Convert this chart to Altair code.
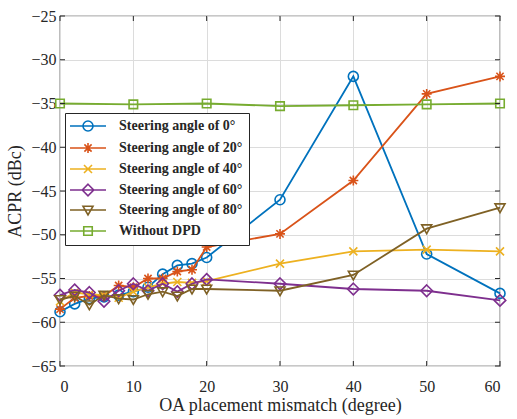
import altair as alt
import pandas as pd

# ---- data ----
x_dense = [0, 2, 4, 6, 8, 10, 12, 14, 16, 18, 20, 30, 40, 50, 60]
x_nodpd = [0, 10, 20, 30, 40, 50, 60]

acpr_0 = [-58.8, -57.9, -57.3, -57.1, -56.9, -56.5, -56.0, -54.5, -53.5, -53.3, -52.6, -46.0, -31.9, -52.2, -56.7]
acpr_20 = [-58.5, -57.2, -57.0, -57.0, -55.8, -56.0, -55.0, -55.0, -54.2, -54.0, -51.4, -49.9, -43.8, -33.9, -31.9]
acpr_40 = [-57.6, -56.6, -56.8, -56.9, -57.2, -56.5, -56.0, -55.6, -55.4, -55.5, -55.3, -53.3, -51.9, -51.7, -51.9]
acpr_60 = [-56.9, -56.3, -56.6, -57.6, -56.4, -55.6, -56.4, -55.6, -56.5, -55.6, -55.1, -55.6, -56.2, -56.4, -57.5]
acpr_80 = [-57.4, -57.0, -58.0, -56.9, -57.3, -57.4, -56.8, -56.5, -57.0, -56.2, -56.2, -56.4, -54.6, -49.3, -46.9]
acpr_nodpd = [-35.0, -35.1, -35.0, -35.3, -35.2, -35.1, -35.0]

series_names = [
    "Steering angle of 0°",
    "Steering angle of 20°",
    "Steering angle of 40°",
    "Steering angle of 60°",
    "Steering angle of 80°",
    "Without DPD",
]
series_colors = ["#0072BD", "#D95319", "#EDB120", "#7E2F8E", "#7F6125", "#77AC30"]

x_ticks = [0, 10, 20, 30, 40, 50, 60]
y_ticks = [-65, -60, -55, -50, -45, -40, -35, -30, -25]

# ---- marker shapes (custom SVG paths) ----
marker_paths = [
    "M1,0A1,1,0,1,1,-1,0A1,1,0,1,1,1,0Z",
    "M0,-1V1M-1,0H1M-0.72,-0.72L0.72,0.72M-0.72,0.72L0.72,-0.72",
    "M-0.8,-0.8L0.8,0.8M-0.8,0.8L0.8,-0.8",
    "M0,-1.15L1.15,0L0,1.15L-1.15,0Z",
    "M-1,-0.75L1,-0.75L0,1Z",
    "M-0.85,-0.85H0.85V0.85H-0.85Z",
]
legend_paths = ["M-3.6,0H3.6" + p for p in marker_paths]

rows = []
for name, vals in zip(series_names[:5], [acpr_0, acpr_20, acpr_40, acpr_60, acpr_80]):
    for xv, yv in zip(x_dense, vals):
        rows.append({"x": xv, "y": yv, "series": name})
for xv, yv in zip(x_nodpd, acpr_nodpd):
    rows.append({"x": xv, "y": yv, "series": series_names[5]})
df = pd.DataFrame(rows)

FONT = "Liberation Serif"
xscale = alt.Scale(domain=[0, 60], nice=False, zero=False)
yscale = alt.Scale(domain=[-65, -25], nice=False, zero=False)

xaxis = alt.Axis(values=x_ticks, title="OA placement mismatch (degree)",
                 grid=True, ticks=False, domain=False, labelPadding=12, titlePadding=2)
yaxis = alt.Axis(values=y_ticks, title="ACPR (dBc)", grid=True, ticks=False,
                 domain=False, labelPadding=4, titlePadding=6)

base = alt.Chart(df)
X = alt.X("x:Q", scale=xscale, axis=xaxis)
Y = alt.Y("y:Q", scale=yscale, axis=yaxis)

series_layers = []
for name, path, col in zip(series_names, marker_paths, series_colors):
    sub = base.transform_filter(alt.datum.series == name)
    series_layers.append(
        sub.mark_line(strokeWidth=1.8, color=col).encode(x=X, y=Y, order=alt.Order("x:Q"))
    )
    series_layers.append(
        sub.mark_point(shape=path, size=100, filled=False, strokeWidth=1.6,
                       opacity=1, color=col).encode(x=X, y=Y)
    )

legend_layer = base.mark_point(opacity=0, size=100, filled=False).encode(
    x=X,
    y=Y,
    color=alt.Color("series:N", scale=alt.Scale(domain=series_names, range=series_colors),
                    legend=alt.Legend(title=None)),
    shape=alt.Shape("series:N", scale=alt.Scale(domain=series_names, range=legend_paths),
                    legend=alt.Legend(title=None)),
)

# inward tick marks on all four sides
xt = pd.DataFrame({"x": x_ticks})
yt = pd.DataFrame({"y": y_ticks})
tick_color = "#262626"
xt_bottom = alt.Chart(xt).mark_rule(color=tick_color).encode(
    x=X, y=alt.value(350), y2=alt.value(345))
xt_top = alt.Chart(xt).mark_rule(color=tick_color).encode(
    x=X, y=alt.value(0), y2=alt.value(5))
yt_left = alt.Chart(yt).mark_rule(color=tick_color).encode(
    y=Y, x=alt.value(0), x2=alt.value(5))
yt_right = alt.Chart(yt).mark_rule(color=tick_color).encode(
    y=Y, x=alt.value(440), x2=alt.value(435))

chart = alt.layer(
    *series_layers, legend_layer, xt_bottom, xt_top, yt_left, yt_right
).properties(
    width=440,
    height=350,
    background="white",
    autosize=alt.AutoSizeParams(type="none"),
    padding={"left": 60, "top": 16, "right": 17, "bottom": 53},
).configure_view(
    stroke="#262626", strokeWidth=1.2
).configure_axis(
    labelFont=FONT, labelFontSize=16, labelColor="#262626",
    titleFont=FONT, titleFontSize=18, titleFontWeight="normal", titleColor="#262626",
    gridColor="#dcdcdc", gridWidth=1,
).configure_legend(
    orient="none", legendX=5, legendY=97,
    fillColor="white", strokeColor="#262626",
    padding=6, rowPadding=4, symbolOffset=10, labelOffset=24,
    labelFont=FONT, labelFontSize=14, labelFontWeight="bold", labelColor="#262626",
    labelLimit=300, symbolSize=100, symbolStrokeWidth=1.6, symbolOpacity=1,
    symbolFillColor="transparent",
)

chart.save("out.html", embed_options={"renderer": "svg", "actions": False})
